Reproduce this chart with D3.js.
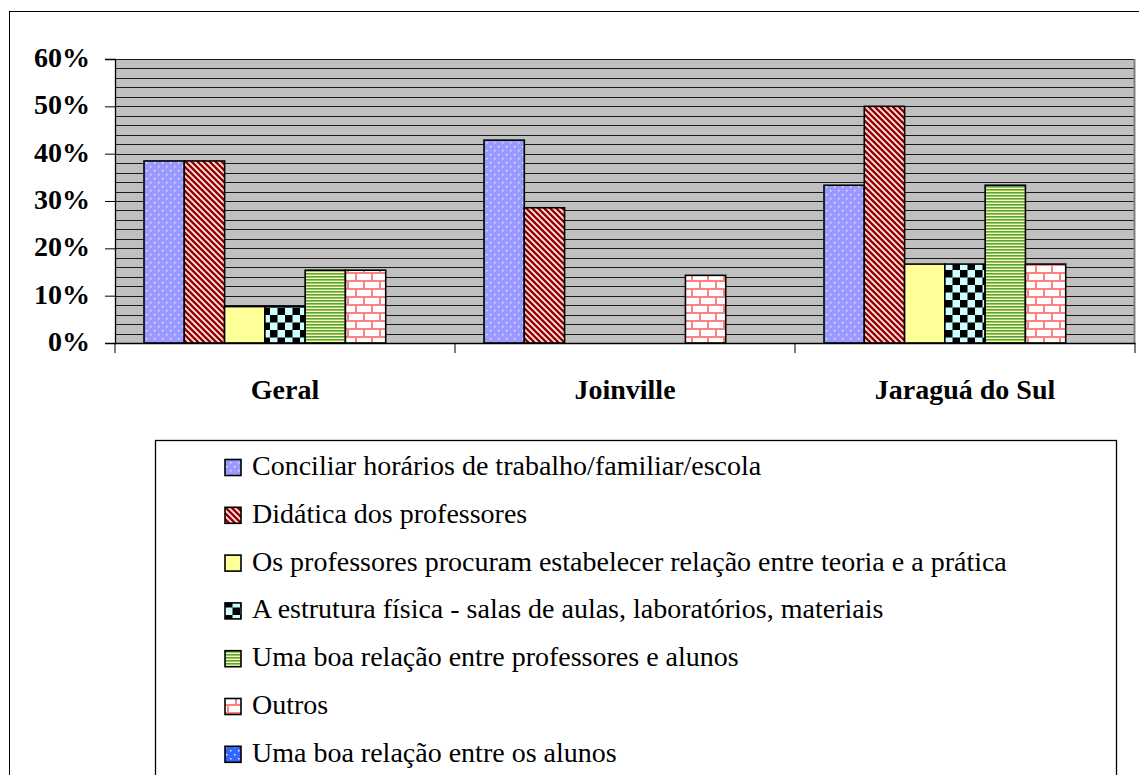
<!DOCTYPE html>
<html>
<head>
<meta charset="utf-8">
<script src="https://d3js.org/d3.v7.min.js"></script>
<style>
  body { margin: 0; }
  #chart { position: relative; width: 1139px; height: 775px; overflow: hidden; }
  #chart svg { position: absolute; left: 0; top: 0; }
  .lbl { position: absolute; font-family: 'Liberation Serif'; font-size: 28px; line-height: 1; color: #000; white-space: nowrap; }
</style>
</head>
<body>
<div id="chart"><svg width="1139" height="775"></svg></div>
<script>

// data (percent)
var categories = ["Geral", "Joinville", "Jaraguá do Sul"];

var seriesNames = [
  "Conciliar horários de trabalho/familiar/escola",
  "Didática dos professores",
  "Os professores procuram estabelecer relação entre teoria e a prática",
  "A estrutura física - salas de aulas, laboratórios, materiais",
  "Uma boa relação entre professores e alunos",
  "Outros",
  "Uma boa relação entre os alunos"
];

var conciliar      = [38.46, 42.86, 33.33];
var didatica       = [38.46, 28.57, 50.00];
var teoriaPratica  = [7.69, 0, 16.67];
var estrutura      = [7.69, 0, 16.67];
var relacaoProf    = [15.38, 0, 33.33];
var outros         = [15.38, 14.29, 16.67];
var relacaoAlunos  = [0, 0, 0];

var yTicks = [0, 10, 20, 30, 40, 50, 60];

var seriesValues = [conciliar, didatica, teoriaPratica, estrutura, relacaoProf, outros, relacaoAlunos];
var fills = ["url(#pDots)", "url(#pDiag)", "#ffff99", "url(#pCheck)", "url(#pStripe)", "url(#pBrick)", "url(#pDots2)"];

var chart = d3.select("#chart");
var svg = chart.select("svg");

// patterns (Excel style fills)
var defs = svg.append("defs");

var p = defs.append("pattern").attr("id", "pDots").attr("patternUnits", "userSpaceOnUse")
    .attr("width", 8).attr("height", 8);
p.append("rect").attr("width", 8).attr("height", 8).attr("fill", "#9999ff");
p.append("rect").attr("x", 2).attr("y", 2).attr("width", 1.5).attr("height", 1.5).attr("fill", "#e6e6ff");
p.append("rect").attr("x", 6).attr("y", 6).attr("width", 1.5).attr("height", 1.5).attr("fill", "#e6e6ff");

p = defs.append("pattern").attr("id", "pDots2").attr("patternUnits", "userSpaceOnUse")
    .attr("width", 8).attr("height", 8);
p.append("rect").attr("width", 8).attr("height", 8).attr("fill", "#3366ff");
p.append("rect").attr("x", 2).attr("y", 2).attr("width", 1.5).attr("height", 1.5).attr("fill", "#ddeeff");
p.append("rect").attr("x", 6).attr("y", 6).attr("width", 1.5).attr("height", 1.5).attr("fill", "#ddeeff");

// downward diagonal stripes
p = defs.append("pattern").attr("id", "pDiag").attr("patternUnits", "userSpaceOnUse")
    .attr("width", 6).attr("height", 6);
p.append("rect").attr("width", 6).attr("height", 6).attr("fill", "#f6e8e8");
p.append("path").attr("stroke", "#990000").attr("stroke-width", 2.4).attr("fill", "none")
    .attr("d", "M-1,-1L7,7M-1,5L1,7M5,-1L7,1");

p = defs.append("pattern").attr("id", "pCheck").attr("patternUnits", "userSpaceOnUse")
    .attr("width", 15).attr("height", 15);
p.append("rect").attr("width", 15).attr("height", 15).attr("fill", "#ccffff");
p.append("rect").attr("width", 7.5).attr("height", 7.5).attr("fill", "#000");
p.append("rect").attr("x", 7.5).attr("y", 7.5).attr("width", 7.5).attr("height", 7.5).attr("fill", "#000");

p = defs.append("pattern").attr("id", "pStripe").attr("patternUnits", "userSpaceOnUse")
    .attr("width", 4).attr("height", 3);
p.append("rect").attr("width", 4).attr("height", 3).attr("fill", "#ffff99");
p.append("rect").attr("width", 4).attr("height", 1.6).attr("fill", "#55a055");

p = defs.append("pattern").attr("id", "pBrick").attr("patternUnits", "userSpaceOnUse")
    .attr("width", 16).attr("height", 16);
p.append("rect").attr("width", 16).attr("height", 16).attr("fill", "#fff");
p.append("path").attr("fill", "none").attr("stroke", "#ff8080").attr("stroke-width", 2)
    .attr("d", "M0,1H16M0,9H16M4,1V9M12,9V16");

// chart frame
svg.append("rect").attr("x", 9.5).attr("y", 11.5).attr("width", 1140).attr("height", 780)
    .attr("fill", "none").attr("stroke", "#000");

var x = d3.scaleBand().domain(categories).range([115, 1135]);
var xs = d3.scaleBand().domain(d3.range(seriesNames.length)).range([0, x.bandwidth()])
    .paddingInner(0).paddingOuter(0.72);
var y = d3.scaleLinear().domain([0, 60]).range([343, 59]);

// plot area
svg.append("rect").attr("x", 115).attr("y", y(60)).attr("width", 1134 - 115).attr("height", y(0) - y(60))
    .attr("fill", "#c0c0c0");

svg.append("g").selectAll("line")
  .data(d3.range(2, 61, 2))
  .enter().append("line")
    .attr("x1", 115).attr("x2", 1134)
    .attr("y1", function(d) { return Math.round(y(d)) + 0.5; })
    .attr("y2", function(d) { return Math.round(y(d)) + 0.5; })
    .attr("stroke", "#1a1a1a").attr("stroke-width", 1);

svg.append("line").attr("x1", 1134.5).attr("x2", 1134.5).attr("y1", y(60)).attr("y2", y(0))
    .attr("stroke", "#808080").attr("stroke-width", 2);

// bars
var rows = [];
seriesValues.forEach(function(vals, s) {
  vals.forEach(function(v, c) {
    if (v > 0) rows.push({s: s, c: categories[c], v: v});
  });
});

svg.append("g").selectAll("rect")
  .data(rows)
  .enter().append("rect")
    .attr("x", function(d) { return x(d.c) + xs(d.s); })
    .attr("y", function(d) { return y(d.v); })
    .attr("width", xs.bandwidth())
    .attr("height", function(d) { return y(0) - y(d.v); })
    .attr("fill", function(d) { return fills[d.s]; })
    .attr("stroke", "#000").attr("stroke-width", 1.6);

// axes lines and ticks
var yAxis = svg.append("g").attr("transform", "translate(115,0)")
    .call(d3.axisLeft(y).tickValues(yTicks).tickSize(10).tickFormat(function() { return ""; }));
yAxis.select(".domain").attr("stroke", "#000").attr("stroke-width", 1.3);
yAxis.selectAll(".tick line").attr("stroke", "#000");

var xAxis = svg.append("g").attr("transform", "translate(0," + y(0) + ")")
    .call(d3.axisBottom(x).tickSize(0).tickFormat(function() { return ""; }));
xAxis.select(".domain").attr("stroke", "#000").attr("stroke-width", 1.3);

svg.append("g").selectAll("line")
  .data(categories.map(function(c) { return x(c); }).concat([x.range()[1]]))
  .enter().append("line")
    .attr("x1", function(d) { return d; }).attr("x2", function(d) { return d; })
    .attr("y1", y(0)).attr("y2", y(0) + 10)
    .attr("stroke", "#000");

// legend box and swatches
svg.append("rect").attr("x", 155.5).attr("y", 440.5).attr("width", 961).attr("height", 400)
    .attr("fill", "#fff").attr("stroke", "#000").attr("stroke-width", 1.3);

svg.append("g").selectAll("rect")
  .data(seriesNames)
  .enter().append("rect")
    .attr("x", 225).attr("y", function(d, i) { return 459.5 + i * 47.8; })
    .attr("width", 16).attr("height", 16)
    .attr("fill", function(d, i) { return fills[i]; })
    .attr("stroke", "#000").attr("stroke-width", 1.6);

// texts as html labels over the svg (line-height 1, so top = baseline - 25)
chart.selectAll(".ylbl")
  .data(yTicks)
  .enter().append("div")
    .attr("class", "lbl ylbl")
    .style("font-weight", "bold")
    .style("right", (1139 - 90) + "px")
    .style("top", function(d) { return (y(d) + 10 - 25) + "px"; })
    .text(function(d) { return d + "%"; });

chart.selectAll(".xlbl")
  .data(categories)
  .enter().append("div")
    .attr("class", "lbl xlbl")
    .style("font-weight", "bold")
    .style("left", function(d) { return x(d) + "px"; })
    .style("width", x.bandwidth() + "px")
    .style("text-align", "center")
    .style("top", (401 - 25) + "px")
    .text(function(d) { return d; });

chart.selectAll(".leg")
  .data(seriesNames)
  .enter().append("div")
    .attr("class", "lbl leg")
    .style("left", "252px")
    .style("top", function(d, i) { return (477 + i * 47.8 - 25) + "px"; })
    .text(function(d) { return d; });

</script>
</body>
</html>
